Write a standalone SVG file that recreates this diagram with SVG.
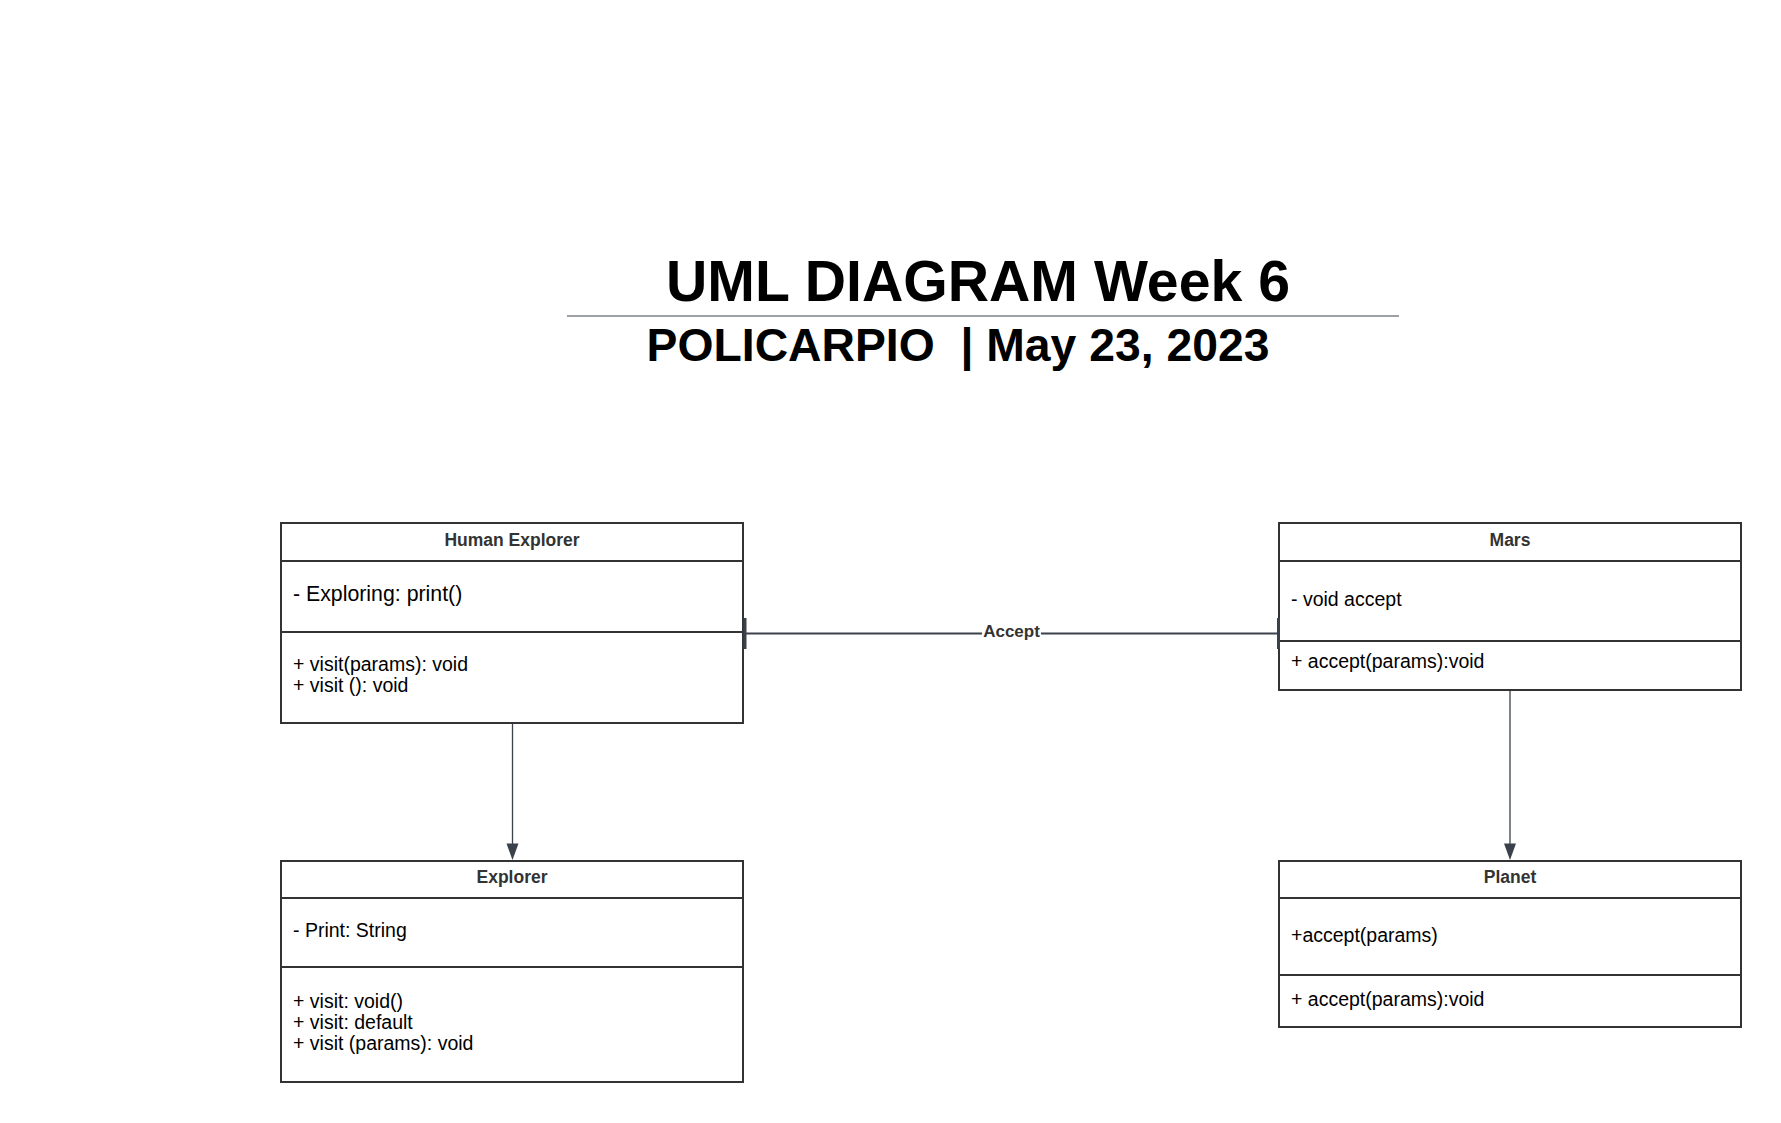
<svg xmlns="http://www.w3.org/2000/svg" width="1781" height="1123" viewBox="0 0 1781 1123">
<style>
.box{fill:#ffffff;stroke:#333333;stroke-width:2}
.div{stroke:#333333;stroke-width:2}
.hdr{font-family:"Liberation Sans",Arial,sans-serif;font-weight:bold;font-size:17.5px;fill:#333333;text-anchor:middle}
.t{font-family:"Liberation Sans",Arial,sans-serif;font-size:19.5px;fill:#000000}
.tl{font-family:"Liberation Sans",Arial,sans-serif;font-size:21.3px;fill:#000000}
.conn{stroke:#3a414a;stroke-width:1.3;fill:none}
.title{font-family:"Liberation Sans",Arial,sans-serif;font-weight:bold;fill:#000000;text-anchor:middle}
</style>
<rect width="1781" height="1123" fill="#ffffff"/>

<g id="title">
<text class="title" x="978" y="301" font-size="57.2">UML DIAGRAM Week 6</text>
<line x1="567" y1="316" x2="1399" y2="316" stroke="#3a414a" stroke-width="1"/>
<text class="title" x="958" y="361" font-size="46.3" xml:space="preserve">POLICARPIO  | May 23, 2023</text>
</g>

<g id="human-explorer">
<rect class="box" x="281" y="523" width="462" height="200"/>
<line class="div" x1="281" y1="561" x2="743" y2="561"/>
<line class="div" x1="281" y1="632" x2="743" y2="632"/>
<text class="hdr" x="512" y="546">Human Explorer</text>
<text class="tl" x="293" y="601">- Exploring: print()</text>
<text class="t" x="293" y="671">+ visit(params): void</text>
<text class="t" x="293" y="692">+ visit (): void</text>
</g>

<g id="mars">
<rect class="box" x="1279" y="523" width="462" height="167"/>
<line class="div" x1="1279" y1="561" x2="1741" y2="561"/>
<line class="div" x1="1279" y1="641" x2="1741" y2="641"/>
<text class="hdr" x="1510" y="546">Mars</text>
<text class="t" x="1291" y="606">- void accept</text>
<text class="t" x="1291" y="668">+ accept(params):void</text>
</g>

<g id="explorer">
<rect class="box" x="281" y="861" width="462" height="221"/>
<line class="div" x1="281" y1="898" x2="743" y2="898"/>
<line class="div" x1="281" y1="967" x2="743" y2="967"/>
<text class="hdr" x="512" y="883">Explorer</text>
<text class="t" x="293" y="937">- Print: String</text>
<text class="t" x="293" y="1008">+ visit: void()</text>
<text class="t" x="293" y="1028.5">+ visit: default</text>
<text class="t" x="293" y="1049.5">+ visit (params): void</text>
</g>

<g id="planet">
<rect class="box" x="1279" y="861" width="462" height="166"/>
<line class="div" x1="1279" y1="898" x2="1741" y2="898"/>
<line class="div" x1="1279" y1="975" x2="1741" y2="975"/>
<text class="hdr" x="1510" y="883">Planet</text>
<text class="t" x="1291" y="942">+accept(params)</text>
<text class="t" x="1291" y="1006">+ accept(params):void</text>
</g>

<g id="connectors">
<line class="conn" x1="512.5" y1="724" x2="512.5" y2="845"/>
<path d="M506.5,843.5 L518.5,843.5 L512.5,860 z" fill="#3a414a"/>
<line class="conn" x1="1510" y1="691" x2="1510" y2="845"/>
<path d="M1504,843.5 L1516,843.5 L1510,860 z" fill="#3a414a"/>
<line x1="744" y1="633.5" x2="1278" y2="633.5" stroke="#3a414a" stroke-width="2"/>
<line x1="745" y1="618" x2="745" y2="649" stroke="#3a414a" stroke-width="3"/>
<line x1="1278.5" y1="618" x2="1278.5" y2="649" stroke="#3a414a" stroke-width="3"/>
<rect x="982" y="622" width="59" height="17" fill="#ffffff"/>
<text x="1011.5" y="637" font-family="'Liberation Sans',Arial,sans-serif" font-weight="bold" font-size="17" fill="#333333" text-anchor="middle">Accept</text>
</g>
</svg>
